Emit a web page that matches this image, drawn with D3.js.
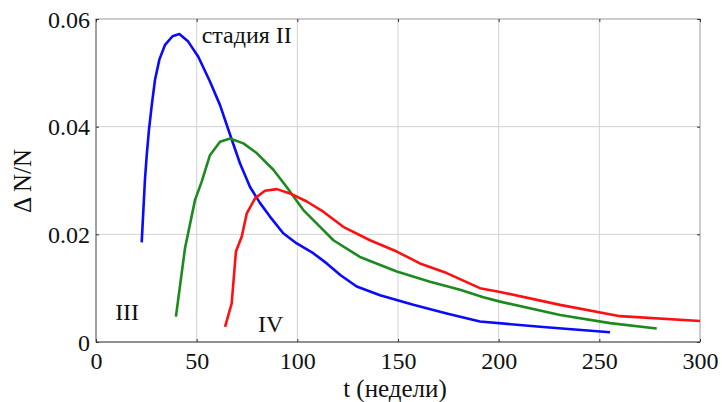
<!DOCTYPE html>
<html>
<head>
<meta charset="utf-8">
<script src="https://cdn.jsdelivr.net/npm/d3@7"></script>
<style>
  html, body { margin: 0; padding: 0; background: #fff; }
  svg { display: block; }
</style>
</head>
<body>
<svg id="chart" width="722" height="402"></svg>
<script>
// Relative change ΔN/N over time (weeks) for stages II, III, IV
const stageII_t = [22.7, 24.3, 25.2, 26.3, 27.7, 29.3, 31.5, 34.3, 38.0, 41.4, 45.8, 50.8, 56.6, 61.6, 66.6, 71.5, 76.5, 81.5, 86.4, 93.0, 99.7, 107.9, 114.6, 121.5, 129.5, 141.1, 157.6, 174.2, 190.7, 222.0, 255.3];
const stageII_v = [0.0185, 0.0301, 0.0347, 0.0394, 0.0440, 0.0487, 0.0525, 0.0552, 0.0568, 0.0572, 0.0558, 0.0530, 0.0484, 0.0440, 0.0385, 0.0332, 0.0288, 0.0258, 0.0233, 0.0202, 0.0183, 0.0165, 0.0146, 0.0124, 0.0103, 0.0087, 0.0069, 0.0053, 0.0038, 0.0028, 0.0018];

const stageIII_t = [39.7, 44.2, 49.2, 52.5, 56.6, 61.6, 66.6, 73.2, 79.8, 88.1, 94.7, 103.0, 111.3, 117.9, 131.1, 149.4, 165.9, 180.8, 192.4, 200.7, 230.5, 255.3, 278.5];
const stageIII_v = [0.0047, 0.0174, 0.0264, 0.0298, 0.0347, 0.0372, 0.0378, 0.0369, 0.0351, 0.0320, 0.0288, 0.0245, 0.0214, 0.0189, 0.0158, 0.0131, 0.0112, 0.0097, 0.0083, 0.0075, 0.0050, 0.0035, 0.0025];

const stageIV_t = [64.1, 67.4, 69.5, 72.4, 74.9, 79.0, 83.9, 89.8, 96.4, 104.7, 112.9, 122.8, 136.1, 149.4, 160.9, 174.2, 190.7, 200.7, 230.5, 260.3, 300.0];
const stageIV_v = [0.0028, 0.0072, 0.0168, 0.0196, 0.0239, 0.0267, 0.0281, 0.0284, 0.0276, 0.0261, 0.0242, 0.0214, 0.0189, 0.0168, 0.0146, 0.0128, 0.0100, 0.0093, 0.0069, 0.0048, 0.0039];

const xTicks = [0, 50, 100, 150, 200, 250, 300];
const yTicks = [0, 0.02, 0.04, 0.06];
const yTickLabels = ["0", "0.02", "0.04", "0.06"];

const series = [
  { t: stageII_t, v: stageII_v, color: "#0a0aff" },
  { t: stageIII_t, v: stageIII_v, color: "#1d8a1d" },
  { t: stageIV_t, v: stageIV_v, color: "#ff1010" }
];

const annotations = [
  { text: "стадия II", t: 52.5, v: 0.0556 },
  { text: "III", t: 9.5, v: 0.0040 },
  { text: "IV", t: 80.5, v: 0.0018 }
];

const SERIF = "'Liberation Serif', 'Times New Roman', Times, serif";

const margin = { left: 96, top: 19, right: 22, bottom: 60 };
const W = 722, H = 402;
const iw = W - margin.left - margin.right;
const ih = H - margin.top - margin.bottom;

const svg = d3.select("#chart");
const g = svg.append("g").attr("transform", `translate(${margin.left},${margin.top})`);

const x = d3.scaleLinear().domain([0, 300]).range([0, iw]);
const y = d3.scaleLinear().domain([0, 0.06]).range([ih, 0]);

// grid
g.append("g").selectAll("line").data(xTicks.slice(1, -1)).join("line")
  .attr("x1", d => x(d)).attr("x2", d => x(d)).attr("y1", 0).attr("y2", ih)
  .attr("stroke", "#d2d2d2").attr("stroke-width", 1);
g.append("g").selectAll("line").data(yTicks.slice(1, -1)).join("line")
  .attr("x1", 0).attr("x2", iw).attr("y1", d => y(d)).attr("y2", d => y(d))
  .attr("stroke", "#d2d2d2").attr("stroke-width", 1);

// frame
g.append("rect").attr("x", 0).attr("y", 0).attr("width", iw).attr("height", ih)
  .attr("fill", "none").attr("stroke", "#9a9a9a").attr("stroke-width", 1);
g.append("line").attr("x1", 0).attr("x2", iw).attr("y1", ih).attr("y2", ih)
  .attr("stroke", "#555").attr("stroke-width", 1);
g.append("line").attr("x1", 0).attr("x2", 0).attr("y1", 0).attr("y2", ih)
  .attr("stroke", "#777").attr("stroke-width", 1);

// axes: inward ticks on all four sides
const xAxis = d3.axisBottom(x).tickValues(xTicks).tickSizeInner(-3).tickSizeOuter(0).tickPadding(10);
const yAxis = d3.axisLeft(y).tickValues(yTicks).tickSizeInner(-3).tickSizeOuter(0).tickPadding(6)
  .tickFormat((d, i) => yTickLabels[i]);

const gx = g.append("g").attr("transform", `translate(0,${ih})`).call(xAxis);
const gy = g.append("g").call(yAxis);
const gxTop = g.append("g").call(d3.axisTop(x).tickValues(xTicks).tickSizeInner(-3).tickSizeOuter(0).tickFormat(""));
const gyRight = g.append("g").attr("transform", `translate(${iw},0)`)
  .call(d3.axisRight(y).tickValues(yTicks).tickSizeInner(-3).tickSizeOuter(0).tickFormat(""));

[gx, gy, gxTop, gyRight].forEach(a => {
  a.attr("font-family", null).attr("font-size", null);
  a.select(".domain").remove();
  a.selectAll(".tick line").attr("stroke", "#333").attr("stroke-width", 1);
  a.selectAll(".tick text")
    .style("font-family", SERIF).style("font-size", "24px").attr("fill", "#111");
});
gy.selectAll(".tick text").attr("dy", "0.34em");
gx.selectAll(".tick text").attr("dy", "0.71em");

// curves
const line = d3.line().x(d => x(d[0])).y(d => y(d[1])).curve(d3.curveLinear);
series.forEach(s => {
  const pts = s.t.map((t, i) => [t, s.v[i]]);
  g.append("path").datum(pts).attr("d", line)
    .attr("fill", "none").attr("stroke", s.color).attr("stroke-width", 2.6)
    .attr("stroke-linejoin", "round").attr("stroke-linecap", "butt");
});

// stage labels
annotations.forEach(a => {
  g.append("text").attr("x", x(a.t)).attr("y", y(a.v))
    .style("font-family", SERIF).style("font-size", "24px").attr("fill", "#111")
    .text(a.text);
});

// axis titles
svg.append("text").attr("x", margin.left + x(148.5)).attr("y", 397)
  .attr("text-anchor", "middle")
  .style("font-family", SERIF).style("font-size", "25px").attr("fill", "#111")
  .text("t (недели)");
svg.append("text").attr("transform", `translate(31,181) rotate(-90)`)
  .attr("text-anchor", "middle")
  .style("font-family", SERIF).style("font-size", "25px").attr("fill", "#111")
  .text("Δ N/N");
</script>
</body>
</html>
